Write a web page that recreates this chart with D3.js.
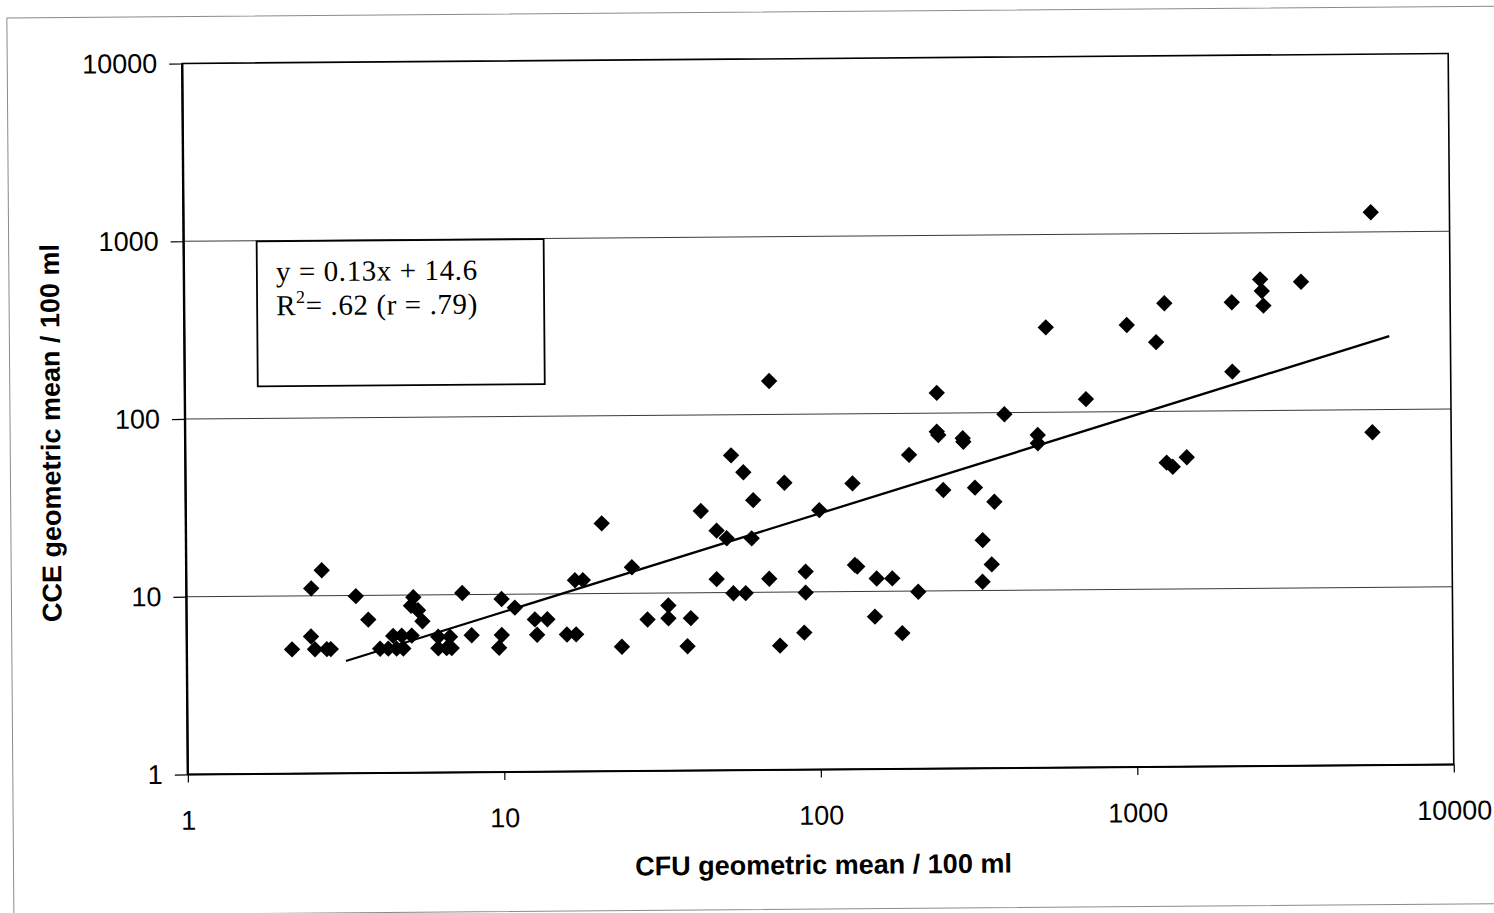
<!DOCTYPE html>
<html>
<head>
<meta charset="utf-8">
<script src="https://cdn.jsdelivr.net/npm/d3@7"></script>
<style>
  html, body { margin: 0; padding: 0; background: #fff; }
  svg { display: block; }
</style>
</head>
<body>
<svg id="chart" width="1494" height="913"></svg>
<script>
// CFU geometric mean / 100 ml (x) for each site
const cfu = [
  2.15, 2.47, 2.54, 2.77, 2.85, 2.48, 2.68, 3.43, 3.75, 4.08,
  4.33, 4.6, 4.83, 4.49, 4.78, 5.14, 5.21, 5.12, 5.39, 5.56,
  6.23, 6.79, 6.23, 6.62, 6.87, 7.44, 7.95, 9.9, 9.9, 9.7,
  10.9, 12.6, 13.8, 12.8, 15.9, 17.0, 16.9, 17.9, 20.6, 23.7,
  25.6, 28.6, 33.3, 33.3, 38.2, 39.2, 42.4, 47.5, 51.1, 47.4,
  53, 53.5, 57.9, 58.5, 61.3, 62.1, 70.2, 69.5, 74.9, 78,
  89.4, 90.6, 90.5, 100.4, 128, 129.7, 131.9, 149.6, 151.8, 170.1,
  182.4, 193.5, 205.3, 237.5, 237, 239.6, 247.7, 286.2, 287.4, 312,
  329, 328, 351, 359, 388, 494, 494, 527, 703, 950,
  1175, 1250, 1260, 1317, 1459, 2042, 2042, 2513, 2542, 2570,
  3383, 5641, 5640
];
// CCE geometric mean / 100 ml (y) for the same sites
const cce = [
  5, 5.9, 5, 5, 5, 11, 13.9, 9.9, 7.3, 5,
  5, 5, 5, 5.9, 5.9, 5.9, 9.7, 8.7, 8.2, 7.1,
  5.8, 5.8, 5, 5, 5, 10.2, 5.9, 9.4, 5.9, 5,
  8.4, 7.2, 7.2, 5.9, 5.9, 5.9, 11.9, 11.9, 24.8, 5,
  14, 7.1, 8.5, 7.2, 5, 7.2, 28.8, 22.3, 20.2, 11.9,
  59, 9.9, 47.4, 9.9, 20.1, 33, 154, 11.9, 5, 41.2,
  5.9, 13, 9.9, 28.8, 40.6, 14.1, 13.8, 7.2, 11.8, 11.8,
  5.8, 58.3, 9.9, 130, 78.6, 75.2, 36.9, 72, 68.8, 37.9,
  19.2, 11.2, 14, 31.5, 97.8, 74.5, 66.9, 300, 118, 307,
  245, 405, 51.4, 48.7, 55, 408, 166, 547, 470, 389,
  528, 1290, 74.6
];
// Fitted trend line end points
const trendX = [3.18, 6410];
const trendY = [4.28, 259];

// Axis ticks
const xTicks = [1, 10, 100, 1000, 10000];
const yTicks = [1, 10, 100, 1000, 10000];
const gridValues = [10, 100, 1000];

const fitLines = ["y = 0.13x + 14.6", ".62 (r = .79)"];

const svg = d3.select("#chart");
svg.append("rect").attr("width", 1494).attr("height", 913).attr("fill", "#fff");

// whole page sits slightly skewed
const page = svg.append("g").attr("transform", "rotate(-0.45, 818, 414)");

// page border
page.append("rect")
  .attr("x", 10).attr("y", 11.6).attr("width", 1520).attr("height", 897.5)
  .attr("fill", "none").attr("stroke", "#8a8a8a").attr("stroke-width", 1);

const plotLeft = 185, plotRight = 1451, plotTop = 58.5, plotBottom = 769.5;

const x = d3.scaleLog().domain([1, 10000]).range([plotLeft, plotRight]);
const y = d3.scaleLog().domain([1, 10000]).range([plotBottom, plotTop]);

// horizontal gridlines
page.append("g").selectAll("line").data(gridValues).join("line")
  .attr("x1", plotLeft).attr("x2", plotRight)
  .attr("y1", d => y(d)).attr("y2", d => y(d))
  .attr("stroke", "#3a3a3a").attr("stroke-width", 1);

// plot frame
page.append("rect")
  .attr("x", plotLeft).attr("y", plotTop)
  .attr("width", plotRight - plotLeft).attr("height", plotBottom - plotTop)
  .attr("fill", "none").attr("stroke", "#000").attr("stroke-width", 1.6);
page.append("line").attr("x1", plotLeft).attr("x2", plotLeft).attr("y1", plotTop).attr("y2", plotBottom)
  .attr("stroke", "#000").attr("stroke-width", 2.4);
page.append("line").attr("x1", plotLeft).attr("x2", plotRight).attr("y1", plotBottom).attr("y2", plotBottom)
  .attr("stroke", "#000").attr("stroke-width", 2);

// axes
const yAxis = page.append("g").attr("transform", `translate(${plotLeft},0)`)
  .call(d3.axisLeft(y).tickValues(yTicks).tickFormat(d3.format("d")).tickSize(13).tickPadding(12));
const xAxis = page.append("g").attr("transform", `translate(0,${plotBottom})`)
  .call(d3.axisBottom(x).tickValues(xTicks).tickFormat(d3.format("d")).tickSize(8).tickPadding(28));
[yAxis, xAxis].forEach(a => {
  a.select(".domain").remove();
  a.selectAll(".tick line").attr("stroke", "#000").attr("stroke-width", 1.2);
  a.selectAll(".tick text")
    .attr("fill", "#000")
    .style("font-family", "'Liberation Sans', Arial, sans-serif")
    .style("font-size", "27px");
});

// trend line
page.append("line")
  .attr("x1", x(trendX[0])).attr("y1", y(trendY[0]))
  .attr("x2", x(trendX[1])).attr("y2", y(trendY[1]))
  .attr("stroke", "#000").attr("stroke-width", 2.3);

// data points as diamonds
const diamond = d3.symbol().type(d3.symbolSquare).size(134);
page.append("g").selectAll("path").data(cfu.map((v, i) => [v, cce[i]])).join("path")
  .attr("d", diamond)
  .attr("transform", d => `translate(${x(d[0])},${y(d[1])}) rotate(45)`)
  .attr("fill", "#000");

// equation box
page.append("rect")
  .attr("x", 258).attr("y", 237).attr("width", 287).attr("height", 145)
  .attr("fill", "#fff").attr("stroke", "#000").attr("stroke-width", 1.8);
const eqFont = "'Liberation Serif', 'Times New Roman', serif";
page.append("text")
  .attr("x", 277).attr("y", 277)
  .style("font-family", eqFont).style("font-size", "29px").style("letter-spacing", "0.6px")
  .attr("fill", "#000")
  .text(fitLines[0]);
const r2 = page.append("text")
  .attr("x", 277).attr("y", 311)
  .style("font-family", eqFont).style("font-size", "29px").style("letter-spacing", "0.6px")
  .attr("fill", "#000");
r2.append("tspan").text("R");
r2.append("tspan").attr("dy", -12).style("font-size", "18px").text("2");
r2.append("tspan").attr("dy", 12).text("= " + fitLines[1]);

// axis titles
page.append("text")
  .attr("x", 820).attr("y", 874)
  .attr("text-anchor", "middle")
  .style("font-family", "'Liberation Sans', Arial, sans-serif")
  .style("font-size", "27px").style("font-weight", "bold")
  .text("CFU geometric mean / 100 ml");
page.append("text")
  .attr("transform", "translate(60,427) rotate(-90)")
  .attr("text-anchor", "middle")
  .style("font-family", "'Liberation Sans', Arial, sans-serif")
  .style("font-size", "27px").style("font-weight", "bold")
  .text("CCE geometric mean / 100 ml");
</script>
</body>
</html>
